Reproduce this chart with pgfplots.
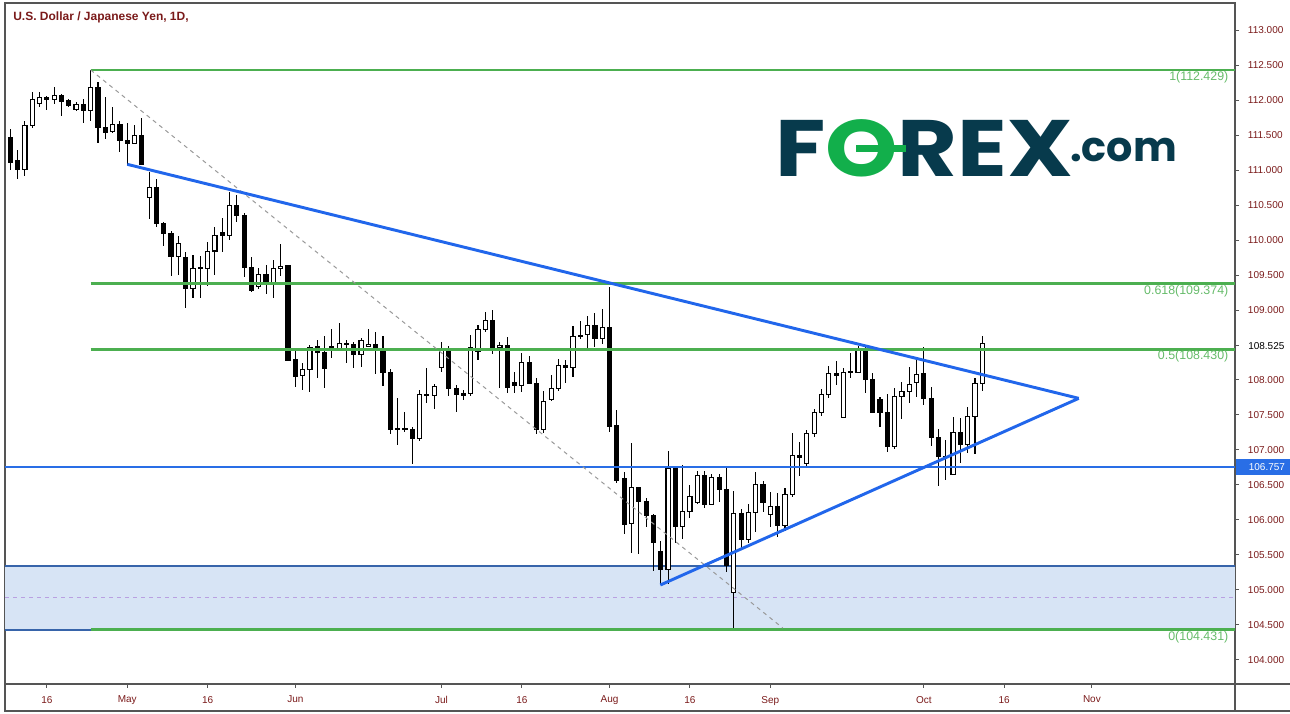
\documentclass[border=0pt]{standalone}
\usepackage{fontspec}
\setmainfont{Liberation Sans}
\newfontfamily\logofont{Poppins}
\usepackage{pgfplots}
\pgfplotsset{compat=1.18}
\usepackage{pgfplotstable}

\definecolor{axiscol}{RGB}{85,85,85}
\definecolor{txtcol}{RGB}{122,26,26}
\definecolor{fibgreen}{RGB}{76,175,80}
\definecolor{fibtext}{RGB}{102,187,106}
\definecolor{tlblue}{RGB}{33,102,235}
\definecolor{hblue}{RGB}{41,110,230}
\definecolor{zonefill}{RGB}{215,228,245}
\definecolor{zoneline}{RGB}{55,100,170}
\definecolor{purp}{RGB}{185,160,225}
\definecolor{logodark}{RGB}{7,58,76}
\definecolor{logogreen}{RGB}{18,175,75}

\pgfplotstableread{
i O H L C
1 111.471 111.586 111.000 111.114
2 111.129 111.286 110.867 111.010
3 111.010 111.704 110.914 111.639
4 111.633 112.110 111.604 112.010
5 111.953 112.110 111.904 112.039
6 112.039 112.061 111.857 112.004
7 112.010 112.181 111.939 112.071
8 112.067 112.081 111.776 111.976
9 111.990 112.010 111.904 111.919
10 111.861 111.967 111.847 111.939
11 111.943 112.010 111.667 111.847
12 111.847 112.429 111.704 112.181
13 112.181 112.253 111.381 111.604
14 111.610 112.039 111.447 111.539
15 111.553 111.904 111.530 111.653
16 111.653 111.700 111.253 111.429
17 111.429 111.667 111.071 111.381
18 111.381 111.643 111.371 111.500
19 111.500 111.743 111.071 111.081
20 110.610 110.967 110.300 110.753
21 110.753 110.867 110.190 110.239
22 110.239 110.261 109.914 110.096
23 110.096 110.129 109.490 109.761
24 109.771 110.057 109.500 109.953
25 109.753 109.833 109.033 109.310
26 109.310 109.786 109.167 109.596
27 109.600 109.771 109.167 109.610
28 109.596 109.976 109.347 109.833
29 109.843 110.190 109.500 110.067
30 110.110 110.319 109.824 110.061
31 110.067 110.690 110.000 110.496
32 110.496 110.639 110.261 110.347
33 110.357 110.381 109.476 109.607
34 109.610 109.753 109.260 109.276
35 109.343 109.596 109.296 109.510
36 109.510 109.643 109.224 109.381
37 109.381 109.714 109.167 109.596
38 109.596 109.943 109.490 109.624
39 109.629 109.640 108.270 108.276
40 108.286 108.453 107.896 108.057
41 108.061 108.247 107.857 108.153
42 108.153 108.500 107.833 108.467
43 108.471 108.571 108.033 108.396
44 108.396 108.633 107.890 108.167
45 108.476 108.729 108.310 108.443
46 108.453 108.810 108.429 108.524
47 108.510 108.571 108.239 108.524
48 108.510 108.539 108.176 108.371
49 108.371 108.596 108.186 108.561
50 108.486 108.724 108.480 108.514
51 108.514 108.681 108.086 108.443
52 108.453 108.629 107.919 108.110
53 108.110 108.153 107.224 107.296
54 107.310 107.739 107.071 107.296
55 107.300 107.539 107.261 107.305
56 107.300 107.333 106.796 107.167
57 107.167 107.857 107.129 107.796
58 107.786 108.167 107.667 107.790
59 107.786 107.943 107.581 107.914
60 108.181 108.539 108.119 108.443
61 108.443 108.486 107.776 107.881
62 107.881 107.929 107.547 107.796
63 107.810 107.857 107.714 107.786
64 107.810 108.643 107.776 108.467
65 108.404 108.786 108.286 108.724
66 108.724 108.967 108.690 108.857
67 108.857 109.000 108.367 108.461
68 108.467 108.539 107.881 108.496
69 108.500 108.610 107.819 107.890
70 107.967 108.110 107.810 107.919
71 107.919 108.381 107.833 108.253
72 108.253 108.343 107.940 107.953
73 107.953 108.024 107.229 107.296
74 107.296 107.847 107.239 107.690
75 107.724 108.071 107.704 107.881
76 107.881 108.300 107.843 108.204
77 108.214 108.286 107.953 108.181
78 108.181 108.771 108.047 108.619
79 108.643 108.843 108.581 108.619
80 108.657 108.914 108.439 108.776
81 108.786 108.953 108.467 108.596
82 108.596 109.010 108.510 108.753
83 108.753 109.324 107.261 107.333
84 107.343 107.571 106.524 106.561
85 106.586 106.681 105.796 105.943
86 105.953 107.096 105.533 106.467
87 106.467 106.467 105.510 106.261
88 106.271 106.319 105.904 106.061
89 106.071 106.081 105.276 105.676
90 105.553 105.700 105.071 105.296
91 105.296 106.986 105.081 106.739
92 106.739 106.771 105.667 105.904
93 105.904 106.786 105.724 106.119
94 106.129 106.496 106.033 106.333
95 106.253 106.700 106.224 106.633
96 106.633 106.700 106.176 106.224
97 106.224 106.653 106.220 106.610
98 106.610 106.653 106.261 106.439
99 106.443 106.747 105.261 105.347
100 104.967 106.414 104.453 106.096
101 106.096 106.153 105.596 105.724
102 105.724 106.229 105.667 106.110
103 106.110 106.681 105.833 106.510
104 106.510 106.561 106.119 106.253
105 106.081 106.396 105.904 106.190
106 106.190 106.381 105.753 105.919
107 105.919 106.453 105.843 106.367
108 106.367 107.239 106.333 106.919
109 106.919 107.110 106.633 106.890
110 106.810 107.286 106.776 107.239
111 107.239 107.581 107.190 107.539
112 107.539 107.867 107.490 107.796
113 107.796 108.200 107.739 108.096
114 108.096 108.271 107.929 108.061
115 107.467 108.176 107.460 108.110
116 108.110 108.381 108.033 108.115
117 108.110 108.490 108.100 108.453
118 108.453 108.476 107.810 108.010
119 108.010 108.096 107.530 107.539
120 107.724 107.761 107.324 107.539
121 107.539 107.800 106.976 107.047
122 107.047 107.881 107.010 107.771
123 107.771 107.976 107.439 107.839
124 107.839 108.181 107.667 107.939
125 107.967 108.296 107.761 108.081
126 108.086 108.467 107.639 107.733
127 107.739 107.896 107.061 107.181
128 107.181 107.300 106.490 106.904
129 106.914 107.143 106.571 106.904
130 106.653 107.467 106.650 107.253
131 107.253 107.453 106.819 107.081
132 107.081 107.619 106.953 107.481
133 107.481 108.024 106.943 107.953
134 107.953 108.629 107.847 108.525
}\candles

\begin{document}
\begin{tikzpicture}
\begin{axis}[
  at={(0,0)}, anchor=south west,
  scale only axis, width=922.5pt, height=510.75pt,
  xmin=0.275, xmax=168.58, ymin=103.657, ymax=113.386,
  clip=false,
  axis line style={axiscol, line width=1.1pt},
  tick style={axiscol, line width=0.75pt},
  major tick length=3pt,
  tick align=outside,
  ytick pos=right, yticklabel pos=right,
  xtick pos=bottom,
  ytick={104,104.5,105,105.5,106,106.5,107,107.5,108,109,109.5,110,110.5,111,111.5,112,112.5,113},
  yticklabel style={xshift=3.2pt, /pgf/number format/.cd, fixed, fixed zerofill, precision=3, 1000 sep={}, assume math mode=true},
  ticklabel style={font=\fontsize{7.5}{9}\selectfont, text=txtcol},
  xticklabel style={yshift=-2.5pt},
  xtick={6,17,28,40,60,71,83,94,105,126,137,149},
  xticklabels={16,May,16,Jun,Jul,16,Aug,16,Sep,Oct,16,Nov},
]
% zone
\addplot[fill=zonefill, draw=none] coordinates {(0.275,104.431) (168.58,104.431) (168.58,105.34) (0.275,105.34)} -- cycle;
\addplot[zoneline, line width=1.3pt] coordinates {(0.275,105.34) (168.58,105.34)};
\addplot[zoneline, line width=1.3pt] coordinates {(0.275,104.431) (12,104.431)};
\addplot[purp, dash pattern=on 3pt off 3pt, line width=0.75pt] coordinates {(0.275,104.886) (168.58,104.886)};
% wicks
\addplot[draw=none, no markers, error bars/.cd, y dir=both, y explicit, error mark=none,
  error bar style={draw=black, line width=0.8pt}]
  table[x=i, y expr={(\thisrow{H}+\thisrow{L})/2}, y error expr={(\thisrow{H}-\thisrow{L})/2}] {\candles};
% bodies (outline / black)
\addplot[draw=none, no markers, error bars/.cd, y dir=both, y explicit, error mark=none,
  error bar style={draw=black, line width=3.9pt}]
  table[x=i, y expr={(\thisrow{O}+\thisrow{C})/2}, y error expr={max(abs(\thisrow{O}-\thisrow{C})/2+0.0075,0.012)}] {\candles};
% white interiors
\addplot[draw=none, no markers, error bars/.cd, y dir=both, y explicit, error mark=none,
  error bar style={draw=white, line width=2.3pt}]
  table[x=i, y expr={(\thisrow{O}+\thisrow{C})/2}, y error expr={max((\thisrow{C}-\thisrow{O})/2-0.0075,0)}] {\candles};
% horizontal levels
\addplot[hblue, line width=1.5pt] coordinates {(0.275,106.757) (168.58,106.757)};
\addplot[fibgreen, line width=2.2pt] coordinates {(12,112.429) (168.58,112.429)};
\addplot[fibgreen, line width=2.2pt] coordinates {(12,109.374) (168.58,109.374)};
\addplot[fibgreen, line width=2.2pt] coordinates {(12,108.430) (168.58,108.430)};
\addplot[fibgreen, line width=2.2pt] coordinates {(12,104.431) (168.58,104.431)};
% fib diagonal
\addplot[gray!80, dash pattern=on 3pt off 3pt, line width=0.75pt] coordinates {(12,112.429) (106.7,104.457)};
% triangle
\addplot[tlblue, line width=2.2pt] coordinates {(17.01,111.081) (147.2,107.738)};
\addplot[tlblue, line width=2.2pt] coordinates {(89.94,105.071) (147.2,107.738)};
% fib labels
\begin{scope}[every node/.style={anchor=east, inner sep=0pt, text=fibtext, font=\fontsize{9.3}{11}\selectfont}]
\node at (axis cs:167.7,112.329) {1(112.429)};
\node at (axis cs:167.7,109.271) {0.618(109.374)};
\node at (axis cs:167.7,108.343) {0.5(108.430)};
\node at (axis cs:167.7,104.329) {0(104.431)};
\end{scope}
\end{axis}
% pixel-coordinate decorations
\begin{scope}[x=0.75pt, y=-0.75pt, shift={(-3.75pt,513pt)}]
\draw[axiscol, line width=1.1pt] (5,684) -- (5,711) -- (1290,711);
\draw[axiscol, line width=1.1pt] (1235,684) -- (1235,711);
\draw[axiscol, line width=1.1pt] (1235,684) -- (1290,684);
\node[anchor=west, inner sep=0pt, text=txtcol, font=\bfseries\fontsize{9}{11}\selectfont] at (13,17) {U.S. Dollar / Japanese Yen, 1D,};
\node[anchor=west, fill=hblue, text=white, inner sep=0pt, minimum height=12pt, minimum width=40pt, font=\fontsize{7.5}{9}\selectfont] at (1236,467) {\hspace{6pt}106.757\hfill};
\draw[axiscol, line width=0.75pt] (1235,346) -- (1239,346);
\node[anchor=west, inner sep=0pt, text=black, font=\fontsize{7.5}{9}\selectfont] at (1248,346) {108.525};
% logo
\node[anchor=base west, inner sep=0pt, text=logodark] at (775,177) {\logofont\bfseries\fontsize{60}{60}\selectfont\scalebox{1.15}[1]{F\textcolor{logogreen}{O}REX}};
\fill[logogreen] (856,145) rectangle (906,152);
\node[anchor=base west, inner sep=0pt, text=logodark] at (1070,162) {\logofont\bfseries\fontsize{31}{31}\selectfont .com};
\pgfresetboundingbox
\path[use as bounding box] (0,0) rectangle (1290,714);
\end{scope}
\end{tikzpicture}
\end{document}
